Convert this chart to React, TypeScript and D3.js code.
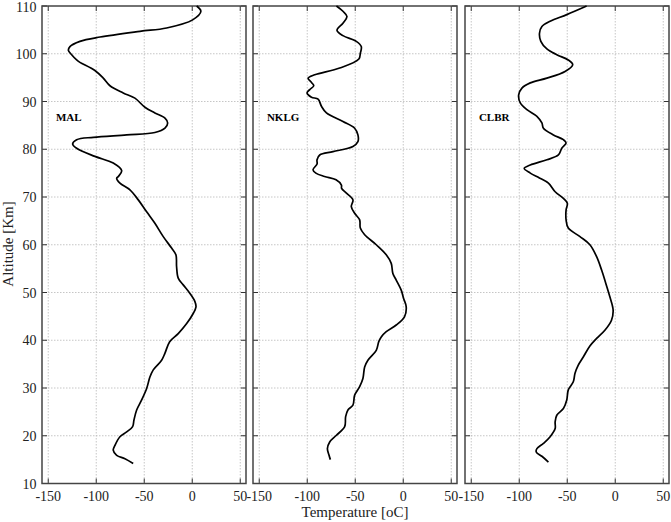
import { useEffect, useRef } from "react";
import * as d3 from "d3";

// [altitude km, temperature oC]
const malProfile: [number, number][] = [
  [110, 4.6], [108.9, 9], [107.1, 0.4], [105.4, -26.7], [104.7, -54.5], [103.5, -96], [102.6, -117],
  [101.5, -127.4], [100.7, -129], [99.8, -125.6], [98.7, -120.4], [98.2, -117], [96.5, -101.4],
  [94.9, -92.7], [93.3, -85.7], [91.8, -71.9], [90.7, -59.7], [88.8, -49.3], [87.6, -38.9],
  [86.5, -28.4], [85.5, -25.6], [84.4, -28.4], [83.5, -38.9], [83, -68.3], [82.5, -103],
  [82, -120.4], [81.1, -124.6], [80.2, -120.4], [78.5, -101.4], [77.1, -82.3], [75.5, -73.5],
  [74.3, -77], [73.9, -78.7], [72.9, -75.3], [71.5, -64.9], [69.4, -56.2], [66.9, -47.5],
  [64.5, -38.9], [61.7, -30.2], [59.3, -21.5], [57.9, -17], [55.4, -16.3], [53, -14.6],
  [51.6, -9.4], [49.8, -2.4], [48.1, 2.8], [47, 3.9], [45.6, 1], [43.5, -5.8], [41.4, -14.6],
  [39.7, -23.5], [37.3, -28.4], [35.8, -31.9], [33.8, -40.6], [32.3, -44.1], [29.9, -47.5],
  [27.5, -52.7], [25.4, -57.9], [23.3, -60.7], [21.9, -62.1], [20.8, -68.3], [19.8, -75.3],
  [18, -80.5], [17, -82.3], [15.9, -78.7], [15.2, -70.1], [14.2, -61.5],
];

const nklgProfile: [number, number][] = [
  [110, -69.6], [108.9, -62.8], [107.8, -58.6], [106.4, -62.8], [104.9, -69], [103.8, -62.8],
  [102.6, -48.9], [101.5, -43.7], [100.1, -44.7], [98.9, -46.2], [97, -66.2], [95.6, -92.2],
  [94.9, -99.1], [94, -95.6], [93.3, -93.2], [92.5, -97.4], [91.8, -100.2], [90.9, -95.6],
  [90.5, -88.7], [89, -85.2], [87.6, -80], [85.8, -62.8], [84.4, -50.6], [83, -47.2],
  [81.6, -47.2], [80.6, -52.4], [79.5, -73.2], [78.8, -87], [77.8, -89.8], [76.9, -89.8],
  [75.7, -94], [75, -91], [74.3, -82], [73.6, -70], [72.5, -64.4], [71.8, -64.2], [70.8, -59.2],
  [69.4, -52.4], [68, -54.1], [66.6, -50.6], [65.2, -45.4], [63.5, -44.7], [62.1, -40.2],
  [60, -28.1], [57.9, -17.7], [56.1, -12.5], [54, -10.8], [52.6, -7.3], [50.5, -2.1],
  [48.8, 0.3], [47, 3.1], [44.9, 1.3], [43.2, -7.3], [41.8, -17.7], [40.7, -22.9], [39.7, -25.5],
  [37.9, -28.1], [35.8, -36.8], [34.4, -40.2], [32, -42], [30.3, -45.4], [28.5, -50.6],
  [26.4, -52.4], [25.4, -57.6], [24, -60], [21.9, -61], [20.1, -69.6], [18.7, -76.6],
  [17.3, -79], [15.9, -77.3], [15, -75.9],
];

const clbrProfile: [number, number][] = [
  [110, -29.8], [108.2, -50.5], [106.8, -67.8], [105.7, -76.4], [104.3, -78.9], [102.6, -77.5],
  [101, -71.2], [99.8, -60.9], [98.7, -48.9], [97.7, -44.3], [96.3, -52.3], [94.9, -71.2],
  [93.9, -88.5], [92.8, -97.2], [91.4, -100.6], [89.7, -98.9], [88.3, -92], [86.9, -81.6],
  [85.5, -76.4], [84.4, -74.8], [83, -64.4], [82, -54], [81.3, -51.2], [80.2, -55.7],
  [78.8, -59.2], [77.8, -71.2], [76.7, -88.5], [76, -94.8], [75, -88.5], [74, -79],
  [72.9, -69.6], [71.1, -62.6], [69.7, -54], [68.7, -49.9], [67.3, -51.2], [65.2, -51.2],
  [63.5, -48.9], [61.7, -36.7], [60, -26.4], [57.5, -19.4], [54.7, -14.2], [51.9, -9.8],
  [49.1, -5.6], [46.3, -2.2], [44.2, -3.9], [42.1, -10.8], [40.4, -19.4], [38.8, -26.4],
  [36.5, -33.3], [34.8, -38.5], [33.1, -41.9], [31.3, -43.7], [29.6, -48.9], [27.5, -50.5],
  [25.7, -54], [24.3, -60.9], [22.9, -62.6], [21.5, -62.6], [19.8, -67.8], [18.4, -74.8],
  [17.3, -81.6], [16.6, -82.3], [15.7, -76.4], [14.5, -69.6],
];

const stations = ["MAL", "NKLG", "CLBR"];
const profiles = [malProfile, nklgProfile, clbrProfile];
const tempTicks = [-150, -100, -50, 0, 50];
const altTicks = [10, 20, 30, 40, 50, 60, 70, 80, 90, 100, 110];

const App = () => {
  const ref = useRef<SVGSVGElement>(null);

  useEffect(() => {
    const svg = d3.select(ref.current);
    svg.selectAll("*").remove();

    const panelLeft = [42, 253, 465];
    const panelWidth = 204;
    const top = 6, bottom = 483.5;
    const font = "'Liberation Serif', 'Times New Roman', serif";

    const y = d3.scaleLinear().domain([10, 110]).range([bottom, top]);

    profiles.forEach((profile, i) => {
      const x = d3.scaleLinear().domain([-156.5, 56]).range([panelLeft[i], panelLeft[i] + panelWidth]);
      const g = svg.append("g");

      // dotted grid
      g.selectAll(".vgrid").data(tempTicks).enter().append("line")
        .attr("x1", d => x(d)).attr("x2", d => x(d))
        .attr("y1", top).attr("y2", bottom)
        .attr("stroke", "#b8b8b8").attr("stroke-width", 0.8).attr("stroke-dasharray", "1.5,1.5");
      g.selectAll(".hgrid").data(altTicks.slice(1, -1)).enter().append("line")
        .attr("x1", x.range()[0]).attr("x2", x.range()[1])
        .attr("y1", d => y(d)).attr("y2", d => y(d))
        .attr("stroke", "#b8b8b8").attr("stroke-width", 0.8).attr("stroke-dasharray", "1.5,1.5");

      // inward ticks on all four sides
      const tl = 5;
      tempTicks.forEach(t => {
        g.append("line").attr("x1", x(t)).attr("x2", x(t)).attr("y1", bottom).attr("y2", bottom - tl)
          .attr("stroke", "#333").attr("stroke-width", 1);
        g.append("line").attr("x1", x(t)).attr("x2", x(t)).attr("y1", top).attr("y2", top + tl)
          .attr("stroke", "#333").attr("stroke-width", 1);
      });
      altTicks.forEach(a => {
        g.append("line").attr("x1", x.range()[0]).attr("x2", x.range()[0] + tl).attr("y1", y(a)).attr("y2", y(a))
          .attr("stroke", "#333").attr("stroke-width", 1);
        g.append("line").attr("x1", x.range()[1]).attr("x2", x.range()[1] - tl).attr("y1", y(a)).attr("y2", y(a))
          .attr("stroke", "#333").attr("stroke-width", 1);
      });

      // frame
      g.append("rect")
        .attr("x", x.range()[0]).attr("y", top)
        .attr("width", panelWidth).attr("height", bottom - top)
        .attr("fill", "none").attr("stroke", "#444").attr("stroke-width", 1.5);

      // x tick labels
      g.selectAll(".xlab").data(tempTicks).enter().append("text")
        .attr("x", d => x(d)).attr("y", 501)
        .attr("text-anchor", "middle")
        .attr("font-family", font).attr("font-size", 14)
        .attr("fill", "#222")
        .text(d => d);

      // profile line
      const line = d3.line<[number, number]>()
        .x(d => x(d[1]))
        .y(d => y(d[0]))
        .curve(d3.curveCatmullRom.alpha(0.5));
      g.append("path")
        .attr("d", line(profile))
        .attr("fill", "none").attr("stroke", "#000").attr("stroke-width", 1.7);

      // station name
      g.append("text")
        .attr("x", x(-142)).attr("y", y(86.5))
        .attr("dominant-baseline", "middle")
        .attr("font-family", font).attr("font-size", 11).attr("font-weight", "bold")
        .text(stations[i]);

      if (i === 0) {
        // baseline-anchored so the top label stays inside the picture
        svg.selectAll(".ylab").data(altTicks).enter().append("text")
          .attr("x", 36.5).attr("y", d => Math.max(y(d) + 5, 12))
          .attr("text-anchor", "end")
          .attr("font-family", font).attr("font-size", 14)
          .attr("fill", "#222")
          .text(d => d);
      }
    });

    svg.append("text")
      .attr("x", 355).attr("y", 517)
      .attr("text-anchor", "middle")
      .attr("font-family", font).attr("font-size", 15)
      .attr("fill", "#222")
      .text("Temperature [oC]");

    svg.append("text")
      .attr("transform", "translate(13,244) rotate(-90)")
      .attr("text-anchor", "middle")
      .attr("font-family", font).attr("font-size", 15)
      .attr("fill", "#222")
      .text("Altitude [Km]");
  });

  return (
    <svg ref={ref} width={671} height={522}
      style={{ position: "absolute", left: 0, top: 0, background: "#fff" }} />
  );
};

export default App;
